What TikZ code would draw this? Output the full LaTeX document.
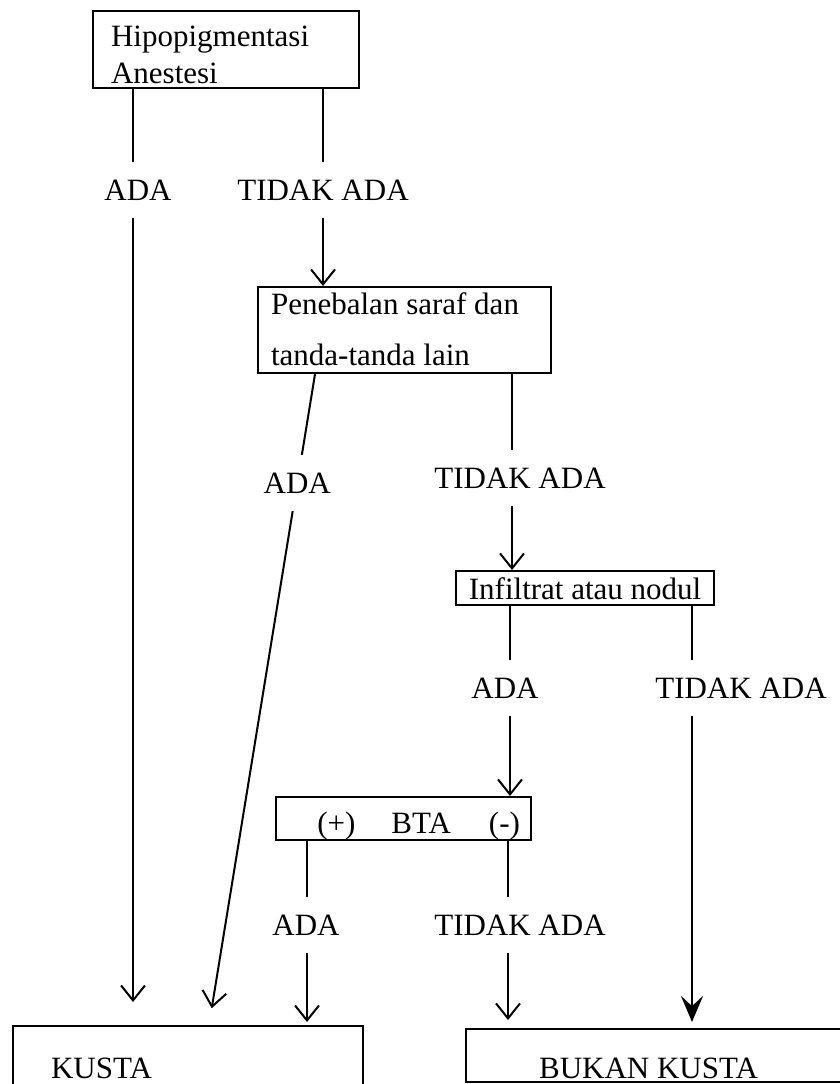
\documentclass[tikz,border=0pt]{standalone}
\usepackage{fontspec}
\setmainfont{Liberation Serif}
\usetikzlibrary{arrows.meta, positioning, calc}
\tikzset{
  box/.style={rectangle, draw=black, line width=2.2pt, inner ysep=0pt,
    anchor=north west, font=\fontsize{31}{37}\selectfont},
  lbl/.style={inner sep=0pt, minimum height=56pt, font=\fontsize{31}{37}\selectfont},
  line/.style={line width=2pt},
  arrow/.style={line width=2pt, -{Straight Barb[length=15pt,width=24pt]}},
  boldarrow/.style={line width=2.4pt, -{Stealth[length=26pt,width=22pt,inset=10pt]}}
}

\begin{document}
\begin{tikzpicture}[x=1pt, y=-1pt]
  \useasboundingbox (0,0) rectangle (839,1084);

  % Boxes
  \node[box, minimum width=266pt, minimum height=77pt, inner xsep=18pt,
    text height=35pt, text depth=42pt] (hipo) at (92,10)
    {\parbox[t]{230pt}{Hipopigmentasi\\Anestesi}};
  \node[box, minimum width=293pt, minimum height=86pt, inner xsep=13pt,
    text height=27pt, text depth=59pt, font=\fontsize{31}{51}\selectfont] (pen) at (257,286)
    {\parbox[t]{267pt}{Penebalan saraf dan\\tanda-tanda lain}};
  \node[box, minimum width=258pt, minimum height=34pt,
    text height=28pt, text depth=6pt] (inf) at (455,570) {Infiltrat atau nodul};
  \node[box, minimum width=255pt, minimum height=43pt, inner xsep=0pt,
    text height=36pt, text depth=7pt] (bta) at (275,796)
    {\hspace*{40pt}(+)\hspace{36pt}BTA\hspace{38pt}(-)\hspace*{10pt}};
  \node[box, minimum width=350pt, minimum height=65pt, inner xsep=38pt,
    text height=52pt, text depth=13pt] (kusta) at (12,1025)
    {\makebox[274pt][l]{KUSTA}};
  \node[box, minimum width=400pt, minimum height=53pt, inner xsep=0pt,
    text height=49pt, text depth=4pt] (bukan) at (465,1028)
    {\makebox[400pt][l]{\hspace*{73pt}BUKAN KUSTA}};

  % Labels
  \node[lbl] (ada1) at (138,190) {ADA};
  \node[lbl] (tidak1) at (323,190) {TIDAK ADA};
  \node[lbl] (tidak2) at (520,478) {TIDAK ADA};
  \node[lbl] (ada3) at (505,688) {ADA};
  \node[lbl] (tidak3) at (741,688) {TIDAK ADA};
  \node[lbl] (ada4) at (306,925) {ADA};
  \node[lbl] (tidak4) at (520,925) {TIDAK ADA};

  % Columns
  \coordinate (cA) at (133,0);
  \coordinate (cB) at (323,0);
  \coordinate (cS) at (315,0);
  \coordinate (cSe) at (209,0);
  \coordinate (cC) at (512,0);
  \coordinate (cD) at (510,0);
  \coordinate (cE) at (692,0);
  \coordinate (cF) at (307,0);
  \coordinate (cG) at (508,0);

  % Connectors
  \draw[line] (hipo.south -| cA) -- (cA |- ada1.north);
  \draw[arrow, shorten >=23pt] (cA |- ada1.south) -- (kusta.north -| cA);
  \draw[line] (hipo.south -| cB) -- (cB |- tidak1.north);
  \draw[arrow] (cB |- tidak1.south) -- (pen.north -| cB);

  \draw[arrow, shorten >=17pt] (pen.south -| cS)
    -- node[lbl, fill=white, pos=0.167] (ada2) {ADA} (kusta.north -| cSe);
  \draw[line] (pen.south -| cC) -- (cC |- tidak2.north);
  \draw[arrow] (cC |- tidak2.south) -- (inf.north -| cC);

  \draw[line] (inf.south -| cD) -- (cD |- ada3.north);
  \draw[arrow] (cD |- ada3.south) -- (bta.north -| cD);
  \draw[line] (inf.south -| cE) -- (cE |- tidak3.north);
  \draw[boldarrow, shorten >=6pt] (cE |- tidak3.south) -- (bukan.north -| cE);

  \draw[line] (bta.south -| cF) -- (cF |- ada4.north);
  \draw[arrow, shorten >=3pt] (cF |- ada4.south) -- (kusta.north -| cF);
  \draw[line] (bta.south -| cG) -- (cG |- tidak4.north);
  \draw[arrow, shorten >=8pt] (cG |- tidak4.south) -- (bukan.north -| cG);
\end{tikzpicture}
\end{document}
